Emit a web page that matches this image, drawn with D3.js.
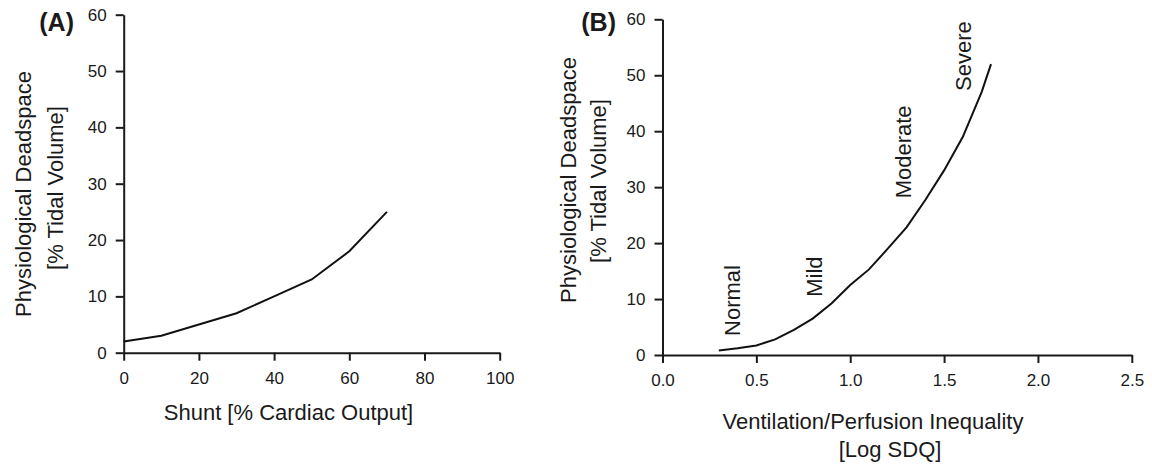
<!DOCTYPE html>
<html>
<head>
<meta charset="utf-8">
<script src="https://cdn.jsdelivr.net/npm/d3@7"></script>
<style>
    body { margin: 0; background: #fff; }
    svg text { font-family: "Liberation Sans", Arial, Helvetica, sans-serif; fill: #1a1a1a; }
    .axis path, .axis line { stroke: #1a1a1a; stroke-width: 2; }
</style>
</head>
<body>
<svg id="chart" width="1152" height="465"></svg>
<script>
// Panel A: shunt vs deadspace
const shuntX = [0, 10, 20, 30, 40, 50, 60, 70];
const shuntDeadspace = [2, 3, 5, 7, 10, 13, 18, 25];

// Panel B: V/Q inequality vs deadspace
const sdqX = [0.3, 0.4, 0.5, 0.6, 0.7, 0.8, 0.9, 1.0, 1.1, 1.2, 1.3, 1.4, 1.5, 1.6, 1.7, 1.75];
const sdqDeadspace = [0.8, 1.2, 1.7, 2.8, 4.5, 6.5, 9.2, 12.5, 15.3, 19.0, 22.8, 27.7, 33.0, 39.0, 47.0, 52.0];

// Severity labels on panel B (data coordinates where the label starts)
const severityLabels = ['Normal', 'Mild', 'Moderate', 'Severe'];
const severityX = [0.413, 0.848, 1.322, 1.646];
const severityY = [3.4, 10.4, 28.0, 47.2];

// Tick values
const yTicks = [0, 10, 20, 30, 40, 50, 60];
const shuntTicks = [0, 20, 40, 60, 80, 100];
const sdqTicks = [0, 0.5, 1.0, 1.5, 2.0, 2.5];

const yTitle = ['Physiological Deadspace', '[% Tidal Volume]'];

const svg = d3.select('#chart');

// Draws one panel: axes, curve, titles
function drawPanel(opts) {
    const x = d3.scaleLinear().domain(opts.xDomain).range([opts.left, opts.right]);
    const y = d3.scaleLinear().domain([0, 60]).range([opts.bottom, opts.top]);

    const g = svg.append('g');

    g.append('g')
        .attr('class', 'axis')
        .attr('transform', `translate(0,${opts.bottom})`)
        .call(d3.axisBottom(x).tickValues(opts.xTicks).tickFormat(opts.xFormat)
            .tickSize(8).tickSizeOuter(0).tickPadding(11))
        .selectAll('text').style('font-size', '17px');

    g.append('g')
        .attr('class', 'axis')
        .attr('transform', `translate(${opts.left},0)`)
        .call(d3.axisLeft(y).tickValues(yTicks).tickSize(8).tickSizeOuter(0).tickPadding(9))
        .selectAll('text').style('font-size', '17px');

    const line = d3.line()
        .x(d => x(d[0]))
        .y(d => y(d[1]));

    g.append('path')
        .datum(d3.zip(opts.xs, opts.ys))
        .attr('d', line)
        .attr('fill', 'none')
        .attr('stroke', '#111')
        .attr('stroke-width', 2);

    // Panel letter
    g.append('text')
        .attr('x', opts.letterX)
        .attr('y', 31)
        .attr('text-anchor', 'end')
        .style('font-size', '25px')
        .style('font-weight', 'bold')
        .text(opts.letter);

    // Y axis title, two lines
    yTitle.forEach((t, i) => {
        g.append('text')
            .attr('transform', `translate(${opts.yTitleX[i]},${opts.yTitleY[i]}) rotate(-90)`)
            .attr('text-anchor', 'middle')
            .style('font-size', '22px')
            .text(t);
    });

    // X axis title lines
    opts.xTitle.forEach((t, i) => {
        g.append('text')
            .attr('x', opts.xTitleX[i])
            .attr('y', opts.xTitleY + i * 28)
            .attr('text-anchor', 'middle')
            .style('font-size', '22px')
            .text(t);
    });

    return { x, y, g };
}

drawPanel({
    xDomain: [0, 100], left: 123.7, right: 499.7, top: 14.7, bottom: 352.7,
    xTicks: shuntTicks, xFormat: d3.format('d'),
    xs: shuntX, ys: shuntDeadspace,
    letter: '(A)', letterX: 74,
    yTitleX: [31, 63], yTitleY: [194, 188],
    xTitle: ['Shunt [% Cardiac Output]'], xTitleX: [288.5], xTitleY: 420
});

const panelB = drawPanel({
    xDomain: [0, 2.5], left: 662.5, right: 1131.8, top: 19.3, bottom: 355,
    xTicks: sdqTicks, xFormat: d3.format('.1f'),
    xs: sdqX, ys: sdqDeadspace,
    letter: '(B)', letterX: 616,
    yTitleX: [576, 606], yTitleY: [180, 181],
    xTitle: ['Ventilation/Perfusion Inequality', '[Log SDQ]'], xTitleX: [873, 890], xTitleY: 429
});

// Severity annotations, rotated
severityLabels.forEach((label, i) => {
    panelB.g.append('text')
        .attr('transform', `translate(${panelB.x(severityX[i])},${panelB.y(severityY[i])}) rotate(-90)`)
        .attr('text-anchor', 'start')
        .style('font-size', '22px')
        .text(label);
});
</script>
</body>
</html>
